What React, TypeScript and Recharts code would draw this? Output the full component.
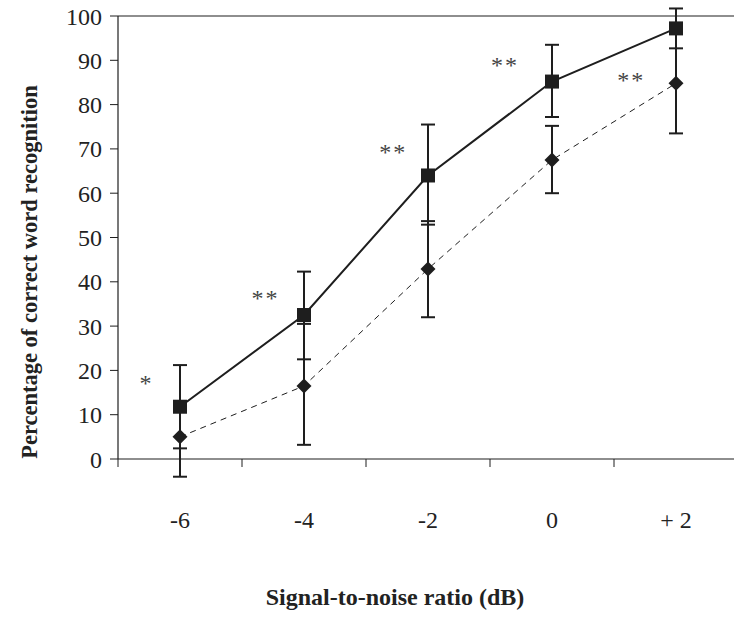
import { ComposedChart, Line, ErrorBar, Scatter, XAxis, YAxis, ReferenceLine } from "recharts";

// signal-to-noise ratio categories (dB)
const snr = [-6, -4, -2, 0, 2];
const snrLabels = ["-6", "-4", "-2", "0", "+ 2"];

// solid line, squares
const squareMean = [11.8, 32.5, 64, 85.2, 97.2];
const squareLow = [2.4, 22.5, 52.9, 77.2, 92.7];
const squareHigh = [21.2, 42.3, 75.5, 93.5, 101.7];

// dashed line, diamonds
const diamondMean = [5, 16.5, 42.9, 67.5, 84.8];
const diamondLow = [-4, 3.2, 32, 60, 73.5];
const diamondHigh = [11.5, 30.5, 53.7, 75.2, 96];

// significance marks
const starX = [-6.54, -4.62, -2.56, -0.76, 1.28];
const starY = [17.8, 37.1, 70, 89.6, 86.2];
const starText = ["*", "**", "**", "**", "**"];

const yTicks = [0, 10, 20, 30, 40, 50, 60, 70, 80, 90, 100];
const xTicks = [-7, -6, -5, -4, -3, -2, -1, 0, 1, 2, 3];

const rows = snr.map((x, i) => ({
  x,
  sq: squareMean[i],
  sqErr: [squareMean[i] - squareLow[i], squareHigh[i] - squareMean[i]],
  di: diamondMean[i],
  diErr: [diamondMean[i] - diamondLow[i], diamondHigh[i] - diamondMean[i]],
}));

const stars = starX.map((x, i) => ({ x, y: starY[i], t: starText[i] }));

const serif = "Liberation Serif";
const ink = "#1e1e1e";

const SquareDot = (p: any) => {
  if (p.cx == null || p.cy == null) return <g key={p.index} />;
  return <rect key={p.index} x={p.cx - 7} y={p.cy - 7} width={14} height={14} fill={ink} />;
};

const DiamondDot = (p: any) => {
  if (p.cx == null || p.cy == null) return <g key={p.index} />;
  const { cx, cy } = p;
  return (
    <path
      key={p.index}
      d={`M${cx},${cy - 7.5} L${cx + 7.5},${cy} L${cx},${cy + 7.5} L${cx - 7.5},${cy} Z`}
      fill={ink}
    />
  );
};

const XTick = (p: any) => {
  const v = p.payload.value;
  const idx = snr.indexOf(v);
  if (idx < 0) {
    return <line x1={p.x} y1={p.y} x2={p.x} y2={p.y + 8} stroke={ink} strokeWidth={1} />;
  }
  return (
    <text x={p.x} y={p.y + 61} textAnchor="middle" dominantBaseline="central" style={{ fontFamily: serif }} fontSize={24} fill="#222">
      {snrLabels[idx]}
    </text>
  );
};

const Star = (p: any) => (
  <text x={p.cx} y={p.cy + 11} textAnchor="middle" style={{ fontFamily: serif }} fontSize={24} fill="#444" letterSpacing={2}>
    {p.payload.t}
  </text>
);

export default function App() {
  return (
    <div style={{ position: "fixed", top: 0, left: 0, width: 734, height: 639, overflow: "hidden", background: "#fff", fontFamily: serif }}>
      <ComposedChart width={760} height={639} data={rows} margin={{ top: 16, right: 22, left: 0, bottom: 0 }}>
        <XAxis
          dataKey="x"
          type="number"
          domain={[-7, 3]}
          allowDataOverflow
          ticks={xTicks}
          interval={0}
          tick={<XTick />}
          tickLine={false}
          tickSize={0}
          tickMargin={0}
          axisLine={{ stroke: ink, strokeWidth: 1.2 }}
          height={180}
          label={{
            content: (lp: any) => (
              <text
                x={lp.viewBox.x + 277}
                y={lp.viewBox.y + 138}
                textAnchor="middle"
                dominantBaseline="central"
                style={{ fontFamily: serif }}
                fontWeight="bold"
                fontSize={24}
                fill="#222"
              >
                Signal-to-noise ratio (dB)
              </text>
            ),
          }}
        />
        <YAxis
          type="number"
          domain={[0, 100]}
          allowDataOverflow
          ticks={yTicks}
          interval={0}
          width={118}
          tickSize={8}
          tickMargin={8}
          tickLine={{ stroke: ink }}
          axisLine={{ stroke: ink, strokeWidth: 1.2 }}
          tick={{ fontSize: 24, fill: "#222", style: { fontFamily: serif } }}
          label={{
            content: (lp: any) => {
              const cx = lp.viewBox.x + 29;
              const cy = lp.viewBox.y + 256;
              return (
                <text
                  x={cx}
                  y={cy}
                  transform={`rotate(-90, ${cx}, ${cy})`}
                  textAnchor="middle"
                  dominantBaseline="central"
                  style={{ fontFamily: serif }}
                  fontWeight="bold"
                  fontSize={22.5}
                  fill="#222"
                >
                  Percentage of correct word recognition
                </text>
              );
            },
          }}
        />
        <ReferenceLine y={100} stroke={ink} strokeWidth={1.2} />
        <Line
          dataKey="di"
          stroke={ink}
          strokeWidth={1}
          strokeDasharray="6 5"
          dot={DiamondDot}
          activeDot={false}
          isAnimationActive={false}
        >
          <ErrorBar dataKey="diErr" width={7} stroke={ink} strokeWidth={2} isAnimationActive={false} />
        </Line>
        <Line
          dataKey="sq"
          stroke={ink}
          strokeWidth={2}
          dot={SquareDot}
          activeDot={false}
          isAnimationActive={false}
        >
          <ErrorBar dataKey="sqErr" width={7} stroke={ink} strokeWidth={2} isAnimationActive={false} />
        </Line>
        <Scatter data={stars} dataKey="y" shape={Star} isAnimationActive={false} />
      </ComposedChart>
    </div>
  );
}
